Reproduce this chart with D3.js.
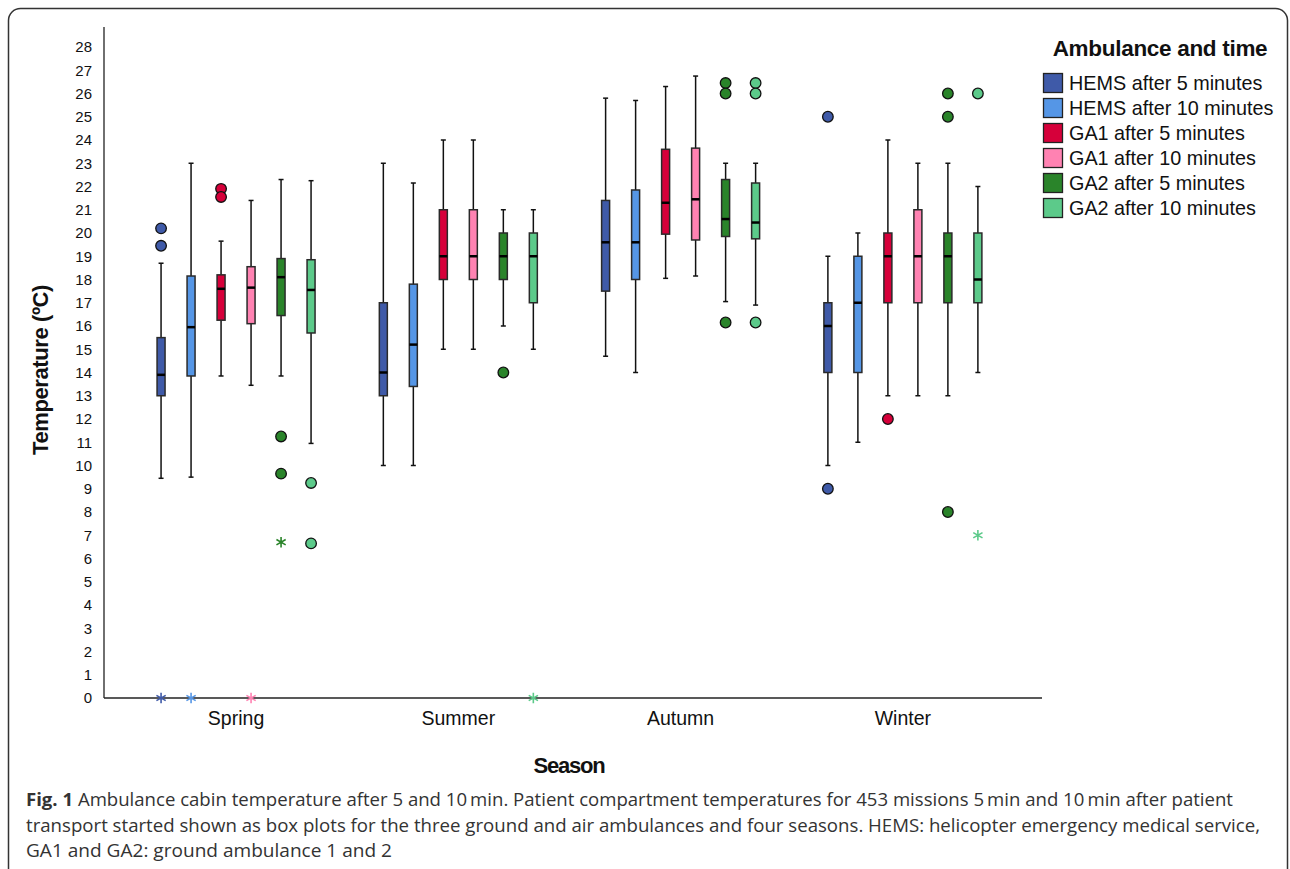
<!DOCTYPE html>
<html>
<head>
<meta charset="utf-8">
<script src="https://cdn.jsdelivr.net/npm/d3@7"></script>
<style>
  body { margin: 0; background: #fff; }
  svg { display: block; }
</style>
</head>
<body>
<svg id="chart" width="1290" height="869"></svg>
<script>
// categories
var seasons = ["Spring", "Summer", "Autumn", "Winter"];
var groups = ["HEMS after 5 minutes", "HEMS after 10 minutes", "GA1 after 5 minutes",
              "GA1 after 10 minutes", "GA2 after 5 minutes", "GA2 after 10 minutes"];
var colors = ["#3f5aa8", "#5596e6", "#d6003a", "#ff82b2", "#2a842a", "#5cca8a"];
var yTicks = d3.range(0, 29);

// box stats per season: [low whisker, q1, median, q3, high whisker]
var hems5  = [[9.45, 13.0, 13.9, 15.5, 18.7], [10.0, 13.0, 14.0, 17.0, 23.0], [14.7, 17.5, 19.6, 21.4, 25.8], [10.0, 14.0, 16.0, 17.0, 19.0]];
var hems10 = [[9.5, 13.85, 15.95, 18.15, 23.0], [10.0, 13.4, 15.2, 17.8, 22.15], [14.0, 18.0, 19.6, 21.85, 25.7], [11.0, 14.0, 17.0, 19.0, 20.0]];
var ga1_5  = [[13.85, 16.25, 17.6, 18.2, 19.65], [15.0, 18.0, 19.0, 21.0, 24.0], [18.05, 19.95, 21.3, 23.6, 26.3], [13.0, 17.0, 19.0, 20.0, 24.0]];
var ga1_10 = [[13.45, 16.1, 17.65, 18.55, 21.4], [15.0, 18.0, 19.0, 21.0, 24.0], [18.15, 19.7, 21.45, 23.65, 26.75], [13.0, 17.0, 19.0, 21.0, 23.0]];
var ga2_5  = [[13.85, 16.45, 18.1, 18.9, 22.3], [16.0, 18.0, 19.0, 20.0, 21.0], [17.05, 19.85, 20.6, 22.3, 23.0], [13.0, 17.0, 19.0, 20.0, 23.0]];
var ga2_10 = [[10.95, 15.7, 17.55, 18.85, 22.25], [15.0, 17.0, 19.0, 20.0, 21.0], [16.9, 19.75, 20.45, 22.15, 23.0], [14.0, 17.0, 18.0, 20.0, 22.0]];
var boxStats = [hems5, hems10, ga1_5, ga1_10, ga2_5, ga2_10];

// outliers (circles) per season
var hems5Out  = [[20.2, 19.45], [], [], [25.0, 9.0]];
var hems10Out = [[], [], [], []];
var ga1_5Out  = [[21.9, 21.55], [], [], [12.0]];
var ga1_10Out = [[], [], [], []];
var ga2_5Out  = [[11.25, 9.65], [14.0], [26.45, 26.0, 16.15], [26.0, 25.0, 8.0]];
var ga2_10Out = [[9.25, 6.65], [], [26.45, 26.0, 16.15], [26.0]];
var outStats = [hems5Out, hems10Out, ga1_5Out, ga1_10Out, ga2_5Out, ga2_10Out];

// extreme values (stars) per season
var hems5Ext  = [[0], [], [], []];
var hems10Ext = [[0], [], [], []];
var ga1_5Ext  = [[], [], [], []];
var ga1_10Ext = [[0], [], [], []];
var ga2_5Ext  = [[6.7], [], [], []];
var ga2_10Ext = [[], [0], [], [7.0]];
var extStats = [hems5Ext, hems10Ext, ga1_5Ext, ga1_10Ext, ga2_5Ext, ga2_10Ext];

var svg = d3.select("#chart");
var font = "Liberation Sans, Arial, sans-serif";

// figure frame
svg.append("rect")
  .attr("x", 8.5).attr("y", 8.5)
  .attr("width", 1279).attr("height", 900)
  .attr("rx", 12)
  .attr("fill", "none").attr("stroke", "#333").attr("stroke-width", 1.5);

var x0 = 104, x1 = 1042, yBottom = 698, yTop = 47;
var xs = d3.scalePoint().domain(seasons).range([x0, x1]).padding(0.61).align(0.487);
var xg = d3.scaleBand().domain(groups).range([-90, 90]);
var ys = d3.scaleLinear().domain([0, 28]).range([yBottom, yTop]);

// flatten into box records
var boxes = [];
var outs = [];
var exts = [];
groups.forEach(function(g, gi) {
  seasons.forEach(function(s, si) {
    var b = boxStats[gi][si];
    var cx = xs(s) + xg(g) + xg.bandwidth() / 2;
    boxes.push({cx: cx, lo: b[0], q1: b[1], med: b[2], q3: b[3], hi: b[4], color: colors[gi]});
    outStats[gi][si].forEach(function(v) { outs.push({cx: cx, v: v, color: colors[gi]}); });
    extStats[gi][si].forEach(function(v) { exts.push({cx: cx, v: v, color: colors[gi]}); });
  });
});

// axes
svg.append("line")
  .attr("x1", x0).attr("x2", x0).attr("y1", 27).attr("y2", yBottom)
  .attr("stroke", "#222").attr("stroke-width", 1.3);
svg.append("line")
  .attr("x1", x0).attr("x2", x1).attr("y1", yBottom).attr("y2", yBottom)
  .attr("stroke", "#222").attr("stroke-width", 1.3);

svg.append("g").selectAll("text").data(yTicks).enter().append("text")
  .attr("x", 92)
  .attr("y", function(d) { return ys(d); })
  .attr("dy", "0.36em")
  .attr("text-anchor", "end")
  .attr("font-family", font)
  .attr("font-size", "15px")
  .attr("fill", "#111")
  .text(function(d) { return d; });

svg.append("g").selectAll("text").data(seasons).enter().append("text")
  .attr("x", function(d) { return xs(d); })
  .attr("y", 725)
  .attr("text-anchor", "middle")
  .attr("font-family", font)
  .attr("font-size", "19.5px")
  .attr("fill", "#111")
  .text(function(d) { return d; });

// axis titles
svg.append("text")
  .attr("x", 569).attr("y", 773)
  .attr("text-anchor", "middle")
  .attr("font-family", font)
  .attr("font-weight", "bold")
  .attr("font-size", "22px")
  .attr("letter-spacing", "-1.2px")
  .attr("fill", "#111")
  .text("Season");

svg.append("text")
  .attr("transform", "translate(48,370) rotate(-90)")
  .attr("text-anchor", "middle")
  .attr("font-family", font)
  .attr("font-weight", "bold")
  .attr("font-size", "22px")
  .attr("letter-spacing", "-0.4px")
  .attr("fill", "#111")
  .text("Temperature (ºC)");

// whiskers
var bw = 8, cap = 5;
var gBox = svg.append("g");
gBox.selectAll(".whisker").data(boxes).enter().append("line")
  .attr("x1", function(d) { return d.cx; }).attr("x2", function(d) { return d.cx; })
  .attr("y1", function(d) { return ys(d.lo); }).attr("y2", function(d) { return ys(d.hi); })
  .attr("stroke", "#111").attr("stroke-width", 1.5);
gBox.selectAll(".capHi").data(boxes).enter().append("line")
  .attr("x1", function(d) { return d.cx - cap / 2; }).attr("x2", function(d) { return d.cx + cap / 2; })
  .attr("y1", function(d) { return ys(d.hi); }).attr("y2", function(d) { return ys(d.hi); })
  .attr("stroke", "#111").attr("stroke-width", 1.5);
gBox.selectAll(".capLo").data(boxes).enter().append("line")
  .attr("x1", function(d) { return d.cx - cap / 2; }).attr("x2", function(d) { return d.cx + cap / 2; })
  .attr("y1", function(d) { return ys(d.lo); }).attr("y2", function(d) { return ys(d.lo); })
  .attr("stroke", "#111").attr("stroke-width", 1.5);

// boxes
gBox.selectAll("rect").data(boxes).enter().append("rect")
  .attr("x", function(d) { return d.cx - bw / 2; })
  .attr("y", function(d) { return ys(d.q3); })
  .attr("width", bw)
  .attr("height", function(d) { return ys(d.q1) - ys(d.q3); })
  .attr("fill", function(d) { return d.color; })
  .attr("stroke", "#2a2a2a").attr("stroke-width", 1.5);

// medians
gBox.selectAll(".median").data(boxes).enter().append("line")
  .attr("x1", function(d) { return d.cx - bw / 2; }).attr("x2", function(d) { return d.cx + bw / 2; })
  .attr("y1", function(d) { return ys(d.med); }).attr("y2", function(d) { return ys(d.med); })
  .attr("stroke", "#000").attr("stroke-width", 2.5);

// outliers
svg.append("g").selectAll("circle").data(outs).enter().append("circle")
  .attr("cx", function(d) { return d.cx; })
  .attr("cy", function(d) { return ys(d.v); })
  .attr("r", 5.3)
  .attr("fill", function(d) { return d.color; })
  .attr("stroke", "#111").attr("stroke-width", 1.3);

// extremes
svg.append("g").selectAll("path").data(exts).enter().append("path")
  .attr("transform", function(d) { return "translate(" + d.cx + "," + ys(d.v) + ")"; })
  .attr("d", d3.symbol(d3.symbolAsterisk, 80))
  .attr("fill", "none")
  .attr("stroke", function(d) { return d.color; })
  .attr("stroke-width", 1.6);

// legend
var lg = svg.append("g");
lg.append("text")
  .attr("x", 1160).attr("y", 56)
  .attr("text-anchor", "middle")
  .attr("font-family", font)
  .attr("font-weight", "bold")
  .attr("font-size", "22.5px")
  .attr("letter-spacing", "-0.3px")
  .attr("fill", "#111")
  .text("Ambulance and time");
lg.selectAll("rect").data(groups).enter().append("rect")
  .attr("x", 1043.5)
  .attr("y", function(d, i) { return 73.5 + i * 25; })
  .attr("width", 19).attr("height", 19)
  .attr("fill", function(d, i) { return colors[i]; })
  .attr("stroke", "#222").attr("stroke-width", 1.3);
lg.selectAll(".lab").data(groups).enter().append("text")
  .attr("x", 1069)
  .attr("y", function(d, i) { return 83 + i * 25; })
  .attr("dy", "0.36em")
  .attr("font-family", font)
  .attr("font-size", "19.8px")
  .attr("fill", "#111")
  .text(function(d) { return d; });

// caption
var capFont = "Open Sans, sans-serif";
var c1 = svg.append("text")
  .attr("x", 26).attr("y", 806)
  .attr("font-family", capFont).attr("font-size", "18px").attr("fill", "#333")
  .attr("textLength", 1207).attr("lengthAdjust", "spacingAndGlyphs");
c1.append("tspan").attr("font-weight", "bold").text("Fig. 1");
c1.append("tspan").text(" Ambulance cabin temperature after 5 and 10\u2009min. Patient compartment temperatures for 453 missions 5\u2009min and 10\u2009min after patient");
svg.append("text")
  .attr("x", 26).attr("y", 832)
  .attr("font-family", capFont).attr("font-size", "18px").attr("fill", "#333")
  .attr("textLength", 1234).attr("lengthAdjust", "spacingAndGlyphs")
  .text("transport started shown as box plots for the three ground and air ambulances and four seasons. HEMS: helicopter emergency medical service,");
svg.append("text")
  .attr("x", 26).attr("y", 857)
  .attr("font-family", capFont).attr("font-size", "18px").attr("fill", "#333")
  .attr("textLength", 366).attr("lengthAdjust", "spacingAndGlyphs")
  .text("GA1 and GA2: ground ambulance 1 and 2");
</script>
</body>
</html>
